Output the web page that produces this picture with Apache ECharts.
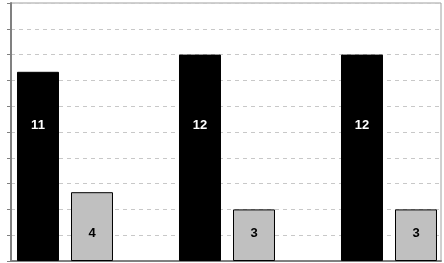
<!DOCTYPE html>
<html><head><meta charset="utf-8">
<script src="https://cdn.jsdelivr.net/npm/echarts@6/dist/echarts.min.js"></script>
<style>html,body{margin:0;padding:0;background:#fff}#c{width:444px;height:263px}</style>
</head><body><div id="c"></div>
<script>
var categories = ['A', 'B', 'C'];
var seriesBlack = [11, 12, 12];
var seriesGray = [4, 3, 3];
var seriesEmpty = [null, null, null];
var yTicks = {min: 0, max: 15, interval: 1.5};

var chart = echarts.init(document.getElementById('c'), null, {renderer: 'canvas'});
chart.setOption({
  animation: false,
  backgroundColor: '#fff',
  grid: [
    {left: 11, top: 3, right: 3, bottom: 2, show: true, borderColor: '#a0a0a0', borderWidth: 1, backgroundColor: 'transparent', outerBoundsMode: 'none'},
    {left: 11, top: 3, width: 486, bottom: 2, outerBoundsMode: 'none', containLabel: false}
  ],
  xAxis: [
    {gridIndex: 0, type: 'category', data: [''], axisLine: {show: true, lineStyle: {color: '#808080', width: 2}}, axisTick: {show: false}, axisLabel: {show: false}},
    {gridIndex: 1, type: 'category', data: categories, show: false}
  ],
  yAxis: [
    {gridIndex: 0, type: 'value', min: yTicks.min, max: yTicks.max, interval: yTicks.interval,
     axisLine: {show: true, lineStyle: {color: '#808080', width: 2}},
     axisTick: {show: true, length: 4, lineStyle: {color: '#808080', width: 1}},
     axisLabel: {show: false},
     splitLine: {show: true, lineStyle: {color: '#c8c8c8', type: [4, 4], width: 1}}},
    {gridIndex: 1, type: 'value', min: yTicks.min, max: yTicks.max, show: false}
  ],
  series: [
    {type: 'bar', xAxisIndex: 1, yAxisIndex: 1, data: seriesBlack, barCategoryGap: '7.4%', barGap: '28.6%',
     itemStyle: {color: '#000', borderColor: '#000', borderWidth: 1},
     label: {show: true, position: 'insideBottom', distance: 129, color: '#fff', fontFamily: 'Liberation Sans', fontWeight: 'bold', fontSize: 13}},
    {type: 'bar', xAxisIndex: 1, yAxisIndex: 1, data: seriesGray,
     itemStyle: {color: '#c0c0c0', borderColor: '#000', borderWidth: 1},
     label: {show: true, position: 'insideBottom', distance: 21, color: '#000', fontFamily: 'Liberation Sans', fontWeight: 'bold', fontSize: 13}},
    {type: 'bar', xAxisIndex: 1, yAxisIndex: 1, data: seriesEmpty}
  ]
});
</script></body></html>
